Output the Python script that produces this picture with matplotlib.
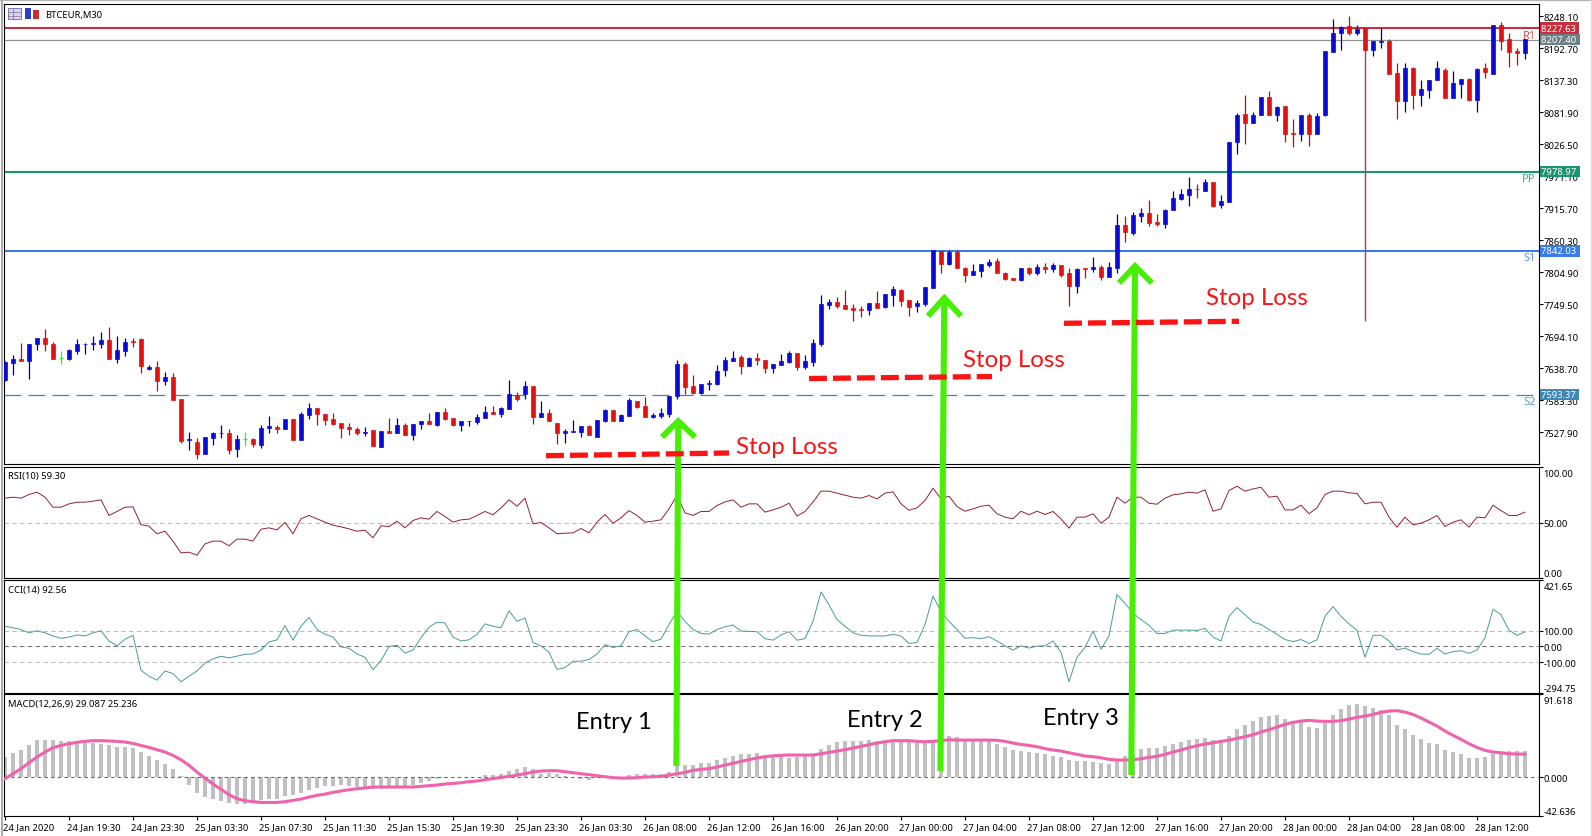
"""
BTCEUR M30 chart with RSI, CCI and MACD panels, entries and stop losses marked by hand
"""
import numpy as np
import matplotlib
matplotlib.use('Agg')
import matplotlib.pyplot as plt
from matplotlib.patches import Rectangle
from matplotlib.transforms import ScaledTranslation

# --- data ---
opens = [7619,7648,7655,7652,7680,7692,7681,7656,7655,7668,
         7680,7680,7681,7687,7655,7669,7686,7690,7638,7641,
         7616,7624,7586,7514,7512,7491,7519,7526,7527,7499,
         7516,7516,7506,7535,7538,7533,7551,7515,7558,7570,
         7560,7551,7544,7537,7534,7526,7532,7503,7530,7527,
         7541,7524,7543,7548,7541,7563,7552,7541,7547,7545,
         7553,7563,7559,7569,7593,7594,7609,7555,7561,7544,
         7527,7529,7529,7539,7520,7548,7567,7547,7557,7583,
         7574,7555,7557,7560,7590,7647,7608,7596,7611,7612,
         7635,7652,7658,7643,7657,7654,7640,7645,7650,7666,
         7641,7649,7681,7748,7753,7748,7743,7741,7739,7751,
         7745,7766,7774,7757,7746,7750,7778,7841,7819,7840,
         7812,7801,7808,7818,7825,7803,7795,7791,7812,7803,
         7815,7810,7817,7803,7782,7812,7810,7815,7797,7812,
         7886,7873,7903,7908,7892,7889,7913,7932,7939,7950,
         7946,7962,7921,7927,8031,8079,8063,8077,8108,8077,
         8092,8046,8044,8077,8045,8077,8187,8220,8232,8219,
         8228,8190,8204,8205,8150,8102,8159,8112,8121,8137,
         8155,8107,8131,8140,8104,8158,8149,8233,8208,8188,8185]
highs = [7652,7661,7683,7681,7692,7706,7684,7668,7673,7690,
         7683,7694,7702,7710,7694,7691,7691,7691,7645,7651,
         7633,7631,7586,7528,7518,7520,7528,7541,7534,7523,
         7528,7519,7540,7556,7540,7551,7551,7563,7579,7570,
         7560,7561,7544,7544,7538,7537,7532,7530,7553,7553,
         7544,7542,7548,7561,7564,7570,7553,7547,7548,7560,
         7574,7574,7571,7619,7597,7617,7609,7583,7568,7544,
         7534,7549,7539,7540,7549,7568,7567,7560,7587,7583,
         7589,7561,7570,7590,7653,7649,7627,7611,7619,7645,
         7659,7669,7661,7658,7666,7654,7647,7663,7668,7666,
         7661,7690,7766,7758,7762,7775,7750,7747,7751,7773,
         7767,7781,7776,7757,7757,7779,7844,7844,7844,7844,
         7815,7819,7819,7828,7830,7805,7795,7813,7814,7819,
         7821,7821,7818,7812,7812,7812,7831,7817,7822,7906,
         7903,7909,7916,7930,7906,7915,7945,7950,7970,7958,
         7967,7962,7939,8030,8080,8112,8082,8108,8118,8092,
         8093,8070,8077,8081,8081,8188,8243,8232,8249,8233,
         8228,8205,8227,8208,8167,8167,8160,8138,8138,8170,
         8159,8154,8140,8141,8158,8167,8233,8238,8220,8193,8208]
lows = [7617,7627,7651,7620,7671,7669,7655,7646,7653,7664,
        7664,7671,7674,7655,7648,7660,7675,7631,7636,7600,
        7610,7584,7510,7498,7482,7491,7506,7518,7491,7485,
        7505,7503,7500,7527,7527,7533,7514,7515,7551,7541,
        7540,7541,7518,7523,7524,7522,7505,7503,7527,7527,
        7524,7515,7533,7542,7539,7550,7539,7531,7539,7542,
        7553,7559,7555,7569,7583,7586,7542,7555,7548,7508,
        7510,7529,7520,7524,7520,7546,7547,7547,7556,7570,
        7555,7552,7552,7555,7585,7594,7594,7594,7602,7610,
        7626,7651,7629,7642,7645,7631,7631,7644,7648,7636,
        7638,7643,7677,7741,7743,7742,7721,7727,7731,7744,
        7744,7747,7746,7729,7736,7746,7778,7804,7818,7812,
        7789,7801,7797,7814,7803,7792,7791,7790,7801,7801,
        7804,7806,7796,7746,7769,7795,7805,7792,7797,7804,
        7857,7870,7892,7885,7885,7882,7913,7930,7919,7934,
        7946,7918,7916,7927,8010,8027,8063,8077,8077,8067,
        8031,8022,8033,8024,8045,8076,8187,8190,8215,8216,
        8190,8179,8193,8149,8070,8082,8087,8093,8107,8137,
        8107,8107,8107,8102,8082,8142,8149,8190,8160,8163,8174]
closes = [7649,7655,7651,7681,7692,7680,7655,7656,7670,7681,
          7681,7683,7688,7655,7670,7684,7684,7643,7641,7616,
          7623,7584,7513,7516,7491,7520,7527,7527,7498,7516,
          7516,7508,7536,7539,7533,7551,7515,7560,7570,7559,
          7550,7543,7536,7533,7526,7529,7505,7530,7527,7541,
          7524,7542,7547,7543,7563,7551,7541,7547,7548,7554,
          7563,7559,7570,7594,7585,7608,7555,7561,7548,7526,
          7530,7530,7539,7524,7549,7567,7547,7558,7584,7572,
          7555,7558,7561,7590,7646,7607,7596,7611,7613,7634,
          7653,7657,7643,7656,7654,7640,7646,7651,7666,7641,
          7652,7683,7750,7753,7746,7742,7739,7739,7751,7744,
          7767,7776,7756,7745,7751,7779,7844,7819,7840,7812,
          7801,7808,7819,7823,7803,7793,7791,7812,7803,7815,
          7811,7818,7801,7782,7811,7811,7815,7796,7814,7887,
          7874,7904,7908,7890,7889,7913,7933,7941,7949,7949,
          7962,7920,7928,8030,8077,8063,8078,8108,8077,8091,
          8044,8044,8077,8045,8075,8188,8220,8230,8220,8226,
          8190,8205,8205,8149,8102,8159,8112,8122,8138,8159,
          8107,8133,8140,8103,8157,8152,8233,8206,8187,8185,8208]

rsi = [71.8,72.7,71.8,75.1,77.2,72.7,63.7,63.7,66.7,68.2,
       68.2,69.1,70.3,56.3,59.9,63.7,64.0,48.2,46.7,39.9,
       42.2,33.3,22.8,23.4,20.7,30.9,33.3,33.3,29.1,35.1,
       35.1,33.3,44.0,45.2,43.4,50.0,39.9,53.3,56.3,53.3,
       50.3,47.6,46.1,44.3,42.2,43.1,36.3,47.0,46.4,51.2,
       45.2,51.8,54.2,53.0,59.9,55.4,50.3,52.4,53.0,56.3,
       59.9,56.9,63.1,70.3,64.6,71.8,48.8,50.0,45.2,39.9,
       40.4,40.7,44.6,40.7,50.3,57.2,49.4,54.2,60.7,56.3,
       50.3,51.2,52.4,62.2,74.2,58.7,56.3,59.9,59.9,65.2,
       68.5,70.3,63.7,66.7,66.7,59.3,61.3,63.7,67.3,55.7,
       59.9,68.2,78.1,78.1,76.3,74.5,72.7,71.8,74.2,71.2,
       76.3,77.5,66.7,61.0,63.1,69.7,80.7,71.2,73.6,64.3,
       60.1,62.2,64.6,65.5,57.8,54.8,53.3,60.1,56.9,60.1,
       57.2,59.9,53.3,44.9,54.8,54.8,57.8,49.4,54.8,72.7,
       67.3,72.7,72.7,67.3,66.4,71.8,74.8,75.7,77.2,76.3,
       79.3,60.1,62.2,78.7,82.5,78.1,80.1,81.6,72.7,73.6,
       61.3,61.3,65.5,57.8,63.1,75.1,78.1,78.1,76.6,76.0,
       66.7,68.2,68.2,54.8,45.8,54.8,47.9,49.4,52.4,56.3,
       46.4,50.3,52.4,45.8,54.8,54.2,65.5,60.7,56.3,56.3,59.3]

cci = [129,119,108,87,100,87,67,52,60,73,
       67,87,100,35,4,46,71,-152,-190,-215,
       -156,-173,-225,-190,-156,-106,-79,-62,-73,-62,
       -50,-48,-23,29,42,133,40,129,185,108,
       77,60,-2,-12,-48,-69,-148,-90,0,8,
       -42,-23,56,123,154,150,60,35,42,77,
       144,129,119,227,160,181,25,4,-37,-146,
       -135,-94,-94,-83,-48,12,-6,4,94,108,
       67,31,46,140,223,160,108,83,79,108,
       125,137,98,96,94,50,40,73,94,40,
       50,160,348,265,171,129,87,71,67,67,
       67,77,67,19,25,140,321,223,160,108,
       52,56,50,62,35,4,-23,4,-10,2,
       4,35,-37,-225,-69,-6,98,-17,67,331,
       275,212,171,135,83,83,104,104,104,102,
       115,60,35,192,248,202,156,140,108,77,
       44,31,44,19,42,192,254,192,144,104,
       -69,71,71,35,-23,-10,-33,-48,-50,-12,
       -48,-33,-27,-44,-23,56,237,202,104,71,92.56]

macd_hist = [22.1,26.8,30.2,35.7,40.5,41.2,41.2,39.7,39.7,38.6,
             38.6,37.5,36.8,34.9,33.1,33.1,32.4,27.6,23.2,19.1,
             14.7,9.2,1.1,-9.2,-17.3,-21.7,-23.9,-26.1,-29.1,-29.4,
             -29.4,-28.7,-25.7,-24.6,-23.9,-21.0,-20.2,-17.3,-14.0,-11.8,
             -10.3,-9.6,-9.2,-9.6,-11.0,-11.4,-12.9,-12.9,-12.1,-10.7,
             -11.4,-8.8,-6.6,-4.8,-1.8,-0.7,-0.4,-0.2,0.1,0.3,
             1.8,2.6,3.3,6.6,9.2,11.0,9.2,3.3,4.4,3.7,
             0.7,0.4,-1.8,-2.9,-1.1,-0.4,0.4,0.4,2.6,3.7,
             3.3,2.9,2.9,5.5,12.9,13.6,12.9,15.8,15.8,18.4,
             21.0,23.5,25.4,25.0,26.5,23.9,23.9,22.1,21.3,22.4,
             25.0,25.0,30.5,35.7,38.3,40.1,40.1,40.1,40.8,39.4,
             39.4,39.4,38.6,38.6,37.1,37.9,38.6,38.6,45.6,44.1,
             42.3,42.3,41.6,41.6,36.8,33.1,29.8,29.1,27.6,26.8,
             25.4,23.5,22.1,19.1,17.7,17.7,16.6,15.4,14.7,18.4,
             23.2,25.7,31.3,32.4,32.0,34.6,36.8,39.0,41.2,41.9,
             43.0,40.5,39.4,45.2,53.3,57.7,62.2,66.2,67.7,68.8,
             64.4,60.7,60.3,55.5,54.1,60.0,68.8,75.4,79.1,80.9,
             78.0,76.5,73.6,68.0,57.7,53.3,46.7,41.6,37.9,36.0,
             30.2,27.6,25.4,21.0,21.3,21.7,25.7,26.8,28.7,28.7,29.087]
macd_signal = [-1.8,3.7,9.2,15.8,22.1,27.6,32.4,34.9,36.8,38.3,
               39.4,40.1,40.1,39.7,39.4,38.6,37.1,34.9,32.7,30.2,
               27.6,23.9,19.1,12.9,5.5,-1.1,-7.7,-13.6,-19.5,-23.9,
               -26.1,-27.2,-28.0,-28.0,-28.0,-27.2,-25.7,-24.3,-22.1,-20.2,
               -18.8,-16.9,-15.4,-14.0,-12.9,-12.1,-11.0,-11.0,-11.0,-11.0,
               -11.0,-11.0,-10.3,-9.6,-8.8,-7.7,-7.0,-6.3,-5.1,-4.4,
               -2.9,-1.8,-0.4,0.7,2.2,3.7,5.5,6.6,7.0,7.0,
               5.9,4.8,3.7,2.6,1.5,0.4,-0.7,-1.1,-1.1,-0.7,
               0.0,0.4,0.7,2.2,3.7,5.1,7.4,8.5,9.2,11.0,
               13.2,15.1,17.3,19.1,21.0,22.4,23.5,23.9,24.3,24.3,
               24.3,24.3,25.7,27.2,28.7,30.2,32.0,33.8,35.7,37.5,
               39.0,40.1,40.1,40.1,39.4,39.0,39.4,40.1,41.2,40.8,
               40.8,40.8,40.8,40.8,40.5,39.4,37.5,36.0,34.9,33.5,
               31.3,29.8,28.7,26.8,25.0,23.2,22.4,21.3,19.5,18.8,
               18.8,19.1,20.2,21.7,22.8,25.0,27.6,29.8,32.4,34.6,
               36.4,37.9,39.4,40.8,42.7,44.5,46.7,49.7,52.2,55.2,
               58.1,60.3,61.8,62.5,61.8,61.4,61.4,62.2,64.0,65.8,
               67.3,69.1,71.4,72.8,73.2,71.7,69.1,65.1,60.7,56.3,
               50.8,46.0,41.6,36.8,32.7,29.4,27.6,26.8,25.7,25.4,25.236]

time_labels = ['24 Jan 2020', '24 Jan 19:30', '24 Jan 23:30', '25 Jan 03:30', '25 Jan 07:30',
               '25 Jan 11:30', '25 Jan 15:30', '25 Jan 19:30', '25 Jan 23:30', '26 Jan 03:30',
               '26 Jan 08:00', '26 Jan 12:00', '26 Jan 16:00', '26 Jan 20:00', '27 Jan 00:00',
               '27 Jan 04:00', '27 Jan 08:00', '27 Jan 12:00', '27 Jan 16:00', '27 Jan 20:00',
               '28 Jan 00:00', '28 Jan 04:00', '28 Jan 08:00', '28 Jan 12:00']
price_ticks = [8248.10, 8192.70, 8137.30, 8081.90, 8026.50, 7971.10, 7915.70,
               7860.30, 7804.90, 7749.50, 7694.10, 7638.70, 7583.30, 7527.90]
level_names = ['R1', '', 'PP', 'S1', 'S2']
level_values = [8227.63, 8207.40, 7978.97, 7842.03, 7593.37]
level_colors = ['#c62f3d', '#8f9498', '#1c9470', '#3b7be6', '#3f86b4']
tag_colors = ['#c62f3d', '#6f7f88', '#1c9470', '#3b7be6', '#3f86b4']

W, H = 1592, 837
LEFT, RIGHT = 4, 1538.6
plt.rcParams['font.family'] = 'Noto Sans'
TICK_FS = 6.8
fig = plt.figure(figsize=(W / 100, H / 100), dpi=100, facecolor='white')
x = np.arange(len(closes))


def panel(top, bottom):
    ax = fig.add_axes([LEFT / W, 1 - bottom / H, (RIGHT - LEFT) / W, (bottom - top) / H])
    ax.set_xlim((LEFT - 5) / 8, (RIGHT - 5) / 8)
    ax.yaxis.tick_right()
    ax.set_xticks([])
    ax.tick_params(axis='y', length=3, width=0.8, pad=0.6, labelsize=TICK_FS)
    for s in ax.spines.values():
        s.set_linewidth(0.8)
    return ax


def shift(text, dx_px, dy_px):
    text.set_transform(text.get_transform() + ScaledTranslation(dx_px / 100, dy_px / 100, fig.dpi_scale_trans))


def clamp_end_labels(ax):
    # the first/last scale labels stay inside the panel height
    labels = ax.get_yticklabels()
    labels[0].set_va('bottom')
    labels[-1].set_va('top')
    shift(labels[-1], 0, -2)


# --- 1. price panel ---
ax = panel(5, 465)
ax.set_ylim(8278.05 - 465 * 1.731, 8278.05 - 5 * 1.731)
ax.set_yticks(price_ticks)
ax.set_yticklabels([f'{p:.2f}' for p in price_ticks])

for name, val, col, tag_col in zip(level_names, level_values, level_colors, tag_colors):
    if name == 'S2':
        ax.axhline(val, color=col, lw=0.9, dashes=(13.6, 5.6), zorder=1)
    elif name == '':
        ax.axhline(val, color=col, lw=0.9, zorder=1)
    else:
        ax.axhline(val, color=col, lw=1.5, zorder=1)
    # trailing space makes the tag as wide as on the terminal
    ax.text(1.0015, val, f'{val:.2f} ', transform=ax.get_yaxis_transform(), color='white',
            fontsize=TICK_FS, va='center', ha='left', zorder=10, clip_on=False,
            bbox=dict(facecolor=tag_col, edgecolor='none', pad=0.8))
    if name:
        ax.annotate(name, (1, val), xycoords=ax.get_yaxis_transform(), xytext=(-2, -5),
                    textcoords='offset points', ha='right', va='center', color=col, fontsize=8, alpha=0.85)

ax.vlines(170, 7721, 8228, color='#b23a4a', lw=1.0, zorder=1.5)

opens_a, highs_a, lows_a, closes_a = map(np.array, (opens, highs, lows, closes))
for mask, body, wick in [(closes_a > opens_a, '#0a0ad8', '#000070'),
                         (closes_a < opens_a, '#e21212', '#a01818'),
                         (closes_a == opens_a, '#3fe23f', '#3fe23f')]:
    ax.vlines(x[mask], lows_a[mask], highs_a[mask], color=wick, lw=0.9, zorder=2)
    if body == '#3fe23f':
        ax.hlines(closes_a[mask], x[mask] - 0.3, x[mask] + 0.3, color=body, lw=0.9, zorder=3)
    else:
        ax.bar(x[mask], np.abs(closes_a - opens_a)[mask], bottom=np.minimum(opens_a, closes_a)[mask],
               width=0.55, color=body, edgecolor=body, linewidth=0.5, zorder=3)

# --- 2. RSI ---
ax_rsi = panel(467.7, 579.3)
ax_rsi.set_ylim(0, 100)
ax_rsi.axhline(50, color='#bdbdbd', lw=0.8, dashes=(4, 3))
ax_rsi.plot(x, rsi, color='#93202f', lw=0.7)
ax_rsi.set_yticks([0, 50, 100])
ax_rsi.set_yticklabels(['0.00', '50.00', '100.00'])
clamp_end_labels(ax_rsi)

# --- 3. CCI ---
ax_cci = panel(581.3, 693.7)
ax_cci.set_ylim(-294.75, 421.65)
for lvl, col in [(100, '#bdbdbd'), (0, '#777777'), (-100, '#bdbdbd')]:
    ax_cci.axhline(lvl, color=col, lw=0.8, dashes=(4, 3))
ax_cci.plot(x, cci, color='#4a9a9a', lw=0.7)
cci_ticks = [-294.75, -100, 0, 100, 421.65]
ax_cci.set_yticks(cci_ticks)
ax_cci.set_yticklabels([f'{t:.2f}' for t in cci_ticks])
clamp_end_labels(ax_cci)

# --- 4. MACD ---
ax_macd = panel(695, 816.7)
ax_macd.set_ylim(-42.636, 91.618)
ax_macd.bar(x, macd_hist, width=0.42, color='#c0c0c0', zorder=1)
ax_macd.axhline(0, color='#666666', lw=0.8, dashes=(3, 3), zorder=2)
ax_macd.plot(x, macd_signal, color='#ef62ad', lw=2.2, zorder=3)
macd_ticks = [-42.636, 0, 91.618]
ax_macd.set_yticks(macd_ticks)
ax_macd.set_yticklabels([f'{t:.3f}' for t in macd_ticks])
clamp_end_labels(ax_macd)
ax_macd.set_xticks(x[::8][:len(time_labels)])
ax_macd.set_xticklabels(time_labels, ha='left', fontsize=TICK_FS)
ax_macd.tick_params(axis='x', length=3, width=0.8, pad=1.5)
for lab in ax_macd.get_xticklabels():
    shift(lab, -2, 0)

# --- 5. hand drawn overlay, in picture pixels ---
top = fig.add_axes([0, 0, 1, 1], zorder=20)
top.set_xlim(0, W)
top.set_ylim(H, 0)
top.axis('off')
top.patch.set_alpha(0)

# window edge
top.plot([1.5, 1.5], [0, H], color='#9a9a9a', lw=1.2)
top.plot([0, W], [0.8, 0.8], color='#b5b5b5', lw=1.0)
top.plot([W - 1, W - 1], [0, H], color='#dddddd', lw=1.0)

# chart window icons
top.add_patch(Rectangle((8, 9), 13, 11, facecolor='#d8d4ee', edgecolor='#6a6aa8', lw=0.6))
top.plot([8, 21], [13, 13], color='#8a6a9a', lw=0.5)
top.plot([8, 21], [16.5, 16.5], color='#8a6a9a', lw=0.5)
top.plot([13, 13], [9, 20], color='#8a6a9a', lw=0.5)
top.add_patch(Rectangle((25, 9), 6, 11, facecolor='#2a3fc8', edgecolor='none'))
top.add_patch(Rectangle((33, 11), 6, 9, facecolor='#c83030', edgecolor='none'))

top.text(45, 15.5, 'BTCEUR,M30', fontsize=TICK_FS, va='center', ha='left')
top.text(7.5, 476.7, 'RSI(10) 59.30', fontsize=TICK_FS, va='center', ha='left')
top.text(7.5, 590.7, 'CCI(14) 92.56', fontsize=TICK_FS, va='center', ha='left')
top.text(7.5, 704.3, 'MACD(12,26,9) 29.087 25.236', fontsize=TICK_FS, va='center', ha='left')

GREEN = '#47ef05'
RED = '#fa1414'
for (x0, y0, x1, y1, wx0, wx1, wy) in [(676.4, 767, 678.3, 421, 662, 695, 438),
                                       (940.4, 772, 944.3, 298, 928, 961, 317),
                                       (1131.3, 776, 1135, 266, 1119, 1152, 284)]:
    top.plot([x0, x1], [y0, y1], color=GREEN, lw=4.4, solid_capstyle='butt')
    top.plot([wx0, x1, wx1], [wy, y1 + 1, wy], color=GREEN, lw=4.2, solid_capstyle='butt',
             solid_joinstyle='miter')

for (x0, y0, x1, y1) in [(546, 456.7, 729, 454), (809, 379.5, 992, 377.5), (1064, 324.3, 1239, 322.3)]:
    top.plot([x0, x1], [y0, y1], color=RED, lw=3.8, dashes=(3.4, 1.14), dash_capstyle='butt')

for (tx, ty) in [(736.5, 448), (963, 360), (1206.5, 298.5)]:
    top.text(tx, ty, 'Stop Loss', color=RED, family='Lato', fontsize=17.3, va='center', ha='left')
for (tx, ty, label) in [(575.5, 722.5, 'Entry 1'), (847, 720.5, 'Entry 2'), (1042.7, 718.5, 'Entry 3')]:
    top.text(tx, ty, label, color='black', family='Lato', fontsize=17, va='center', ha='left')

plt.savefig('out.png', dpi=100)
plt.close()
